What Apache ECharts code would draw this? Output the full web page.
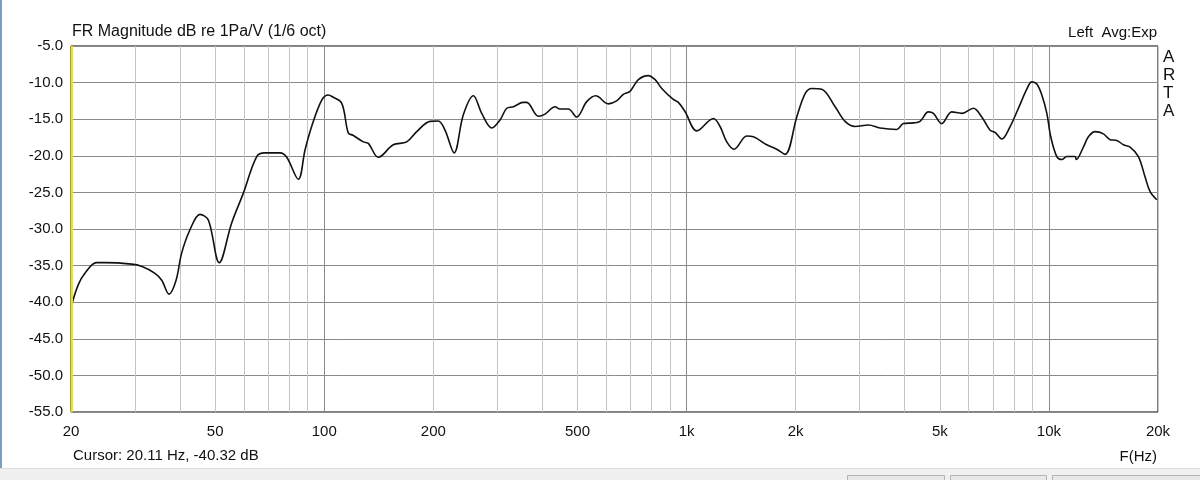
<!DOCTYPE html>
<html>
<head>
<meta charset="utf-8">
<script src="https://cdn.jsdelivr.net/npm/echarts@6/dist/echarts.min.js"></script>
<style>
html,body{margin:0;padding:0;background:#fff;}
#chart{width:1200px;height:480px;}
</style>
</head>
<body>
<div id="chart"></div>
<script>
// ---- data ----
const freqHz = [20.1, 20.95, 21.85, 23.5, 24.8, 29.4, 31.3, 34.1, 35.6, 37.3, 39.0, 40.4, 42.6, 45.4, 47.9, 51.3, 55.5, 59.8, 65.1, 68.6, 75.5, 78.8, 84.8, 88.5, 92.3, 98.4, 102.6, 105, 111.7, 116.5, 120, 128.2, 132.3, 141, 155, 168.9, 180, 195.8, 206.4, 215.4, 228.2, 242, 257.9, 272, 290, 305.6, 318.9, 332.6, 354, 362, 389.9, 406.8, 433.5, 447, 471.6, 497.6, 530, 561.4, 608, 641, 669, 698, 736, 784, 818.6, 854, 919, 949, 990, 1067, 1186, 1237, 1291, 1352, 1466, 1529, 1664, 1773, 1869, 2014, 2124, 2216, 2360, 2570, 2738, 2918, 3176, 3420, 3802, 3966, 4226, 4408, 4648, 4798, 5060, 5394, 5748, 6188, 6526, 6881, 7102, 7412, 7814, 8238, 8688, 8968, 9260, 9558, 9868, 10118, 10512, 10852, 11204, 11810, 11900, 12450, 12852, 13412, 14140, 14756, 15398, 16060, 16750, 17660, 18426, 19020, 19848];
const magDb = [-40.3, -37.6, -36.05, -34.6, -34.6, -34.8, -35.1, -36.05, -37.0, -38.9, -37.0, -33.3, -30.1, -28.0, -28.8, -34.6, -29.2, -25.1, -20.1, -19.6, -19.6, -20.2, -23.2, -19.2, -16.0, -12.4, -11.7, -11.9, -12.8, -16.9, -17.2, -18.1, -18.3, -20.2, -18.5, -18.1, -16.7, -15.3, -15.25, -16.5, -19.6, -14.4, -11.8, -14.2, -16.2, -15.1, -13.5, -13.3, -12.7, -12.7, -14.6, -14.3, -13.3, -13.6, -13.6, -14.7, -12.6, -11.8, -12.9, -12.5, -11.6, -11.2, -9.6, -9.05, -9.6, -10.8, -12.3, -12.7, -13.95, -16.6, -14.9, -16.0, -18.1, -19.1, -17.3, -17.4, -18.5, -19.1, -19.8, -14.7, -11.5, -10.8, -10.9, -13.3, -15.3, -16.0, -15.8, -16.2, -16.4, -15.6, -15.5, -15.3, -14.0, -14.2, -15.6, -14.0, -14.2, -13.5, -14.7, -16.5, -16.8, -17.7, -16.0, -13.5, -10.9, -9.9, -10.2, -11.7, -14.2, -17.4, -20.1, -20.5, -20.1, -20.1, -20.5, -18.8, -17.4, -16.7, -17.0, -17.8, -17.9, -18.5, -18.8, -20.1, -22.9, -24.9, -26.0];

const xTickFreqs = [20, 50, 100, 200, 500, 1000, 2000, 5000, 10000, 20000];
const xTickLabels = ['20', '50', '100', '200', '500', '1k', '2k', '5k', '10k', '20k'];
const minorGridFreqs = [20, 30, 40, 50, 60, 70, 80, 90, 100, 200, 300, 400, 500, 600, 700, 800, 900, 1000, 2000, 3000, 4000, 5000, 6000, 7000, 8000, 9000, 10000, 20000];
const decadeGridFreqs = [100, 1000, 10000];
const freqMin = 20, freqMax = 20000;
const dbMin = -55, dbMax = -5, dbStep = 5;
const cursorHz = 20.11;

const titleText = 'FR Magnitude dB re 1Pa/V (1/6 oct)';
const topRightText = 'Left  Avg:Exp';
const brandLetters = ['A', 'R', 'T', 'A'];
const cursorText = 'Cursor: 20.11 Hz, -40.32 dB';
const xUnitText = 'F(Hz)';

// ---- build ----
const lg = v => Math.log10(v);
const seriesData = freqHz.map((f, i) => [lg(f), magDb[i]]);
const cursorData = [[lg(cursorHz), dbMin], [lg(cursorHz), dbMax]];
const FONT = '"Liberation Sans", Arial, sans-serif';

function labelFor(v) {
  for (let i = 0; i < xTickFreqs.length; i++) {
    if (Math.abs(lg(xTickFreqs[i]) - v) < 1e-6) return xTickLabels[i];
  }
  return '';
}

const chart = echarts.init(document.getElementById('chart'), null, {renderer: 'canvas'});

const graphics = [
  {type: 'rect', shape: {x: 0, y: 0, width: 2, height: 480}, style: {fill: '#7c9cc4'}, silent: true},
  {type: 'rect', shape: {x: 0, y: 468, width: 1200, height: 12}, style: {fill: '#f0f0f0'}, silent: true},
  {type: 'line', shape: {x1: 0, y1: 468.5, x2: 1200, y2: 468.5}, style: {stroke: '#dcdcdc', lineWidth: 1}, silent: true},
  {type: 'rect', shape: {x: 847.5, y: 475.5, width: 97, height: 10}, style: {fill: '#e8e8e8', stroke: '#b4b4b4', lineWidth: 1}, silent: true},
  {type: 'rect', shape: {x: 950.5, y: 475.5, width: 96, height: 10}, style: {fill: '#e8e8e8', stroke: '#b4b4b4', lineWidth: 1}, silent: true},
  {type: 'rect', shape: {x: 1052.5, y: 475.5, width: 160, height: 10}, style: {fill: '#e8e8e8', stroke: '#b4b4b4', lineWidth: 1}, silent: true},
  {type: 'text', left: 72, top: 24, style: {text: titleText, font: '16px ' + FONT, fill: '#111'}},
  {type: 'text', right: 43, top: 25, style: {text: topRightText, font: '15px ' + FONT, fill: '#111'}},
  {type: 'text', left: 73, top: 448, style: {text: cursorText, font: '15px ' + FONT, fill: '#111'}},
  {type: 'text', right: 43, top: 449, style: {text: xUnitText, font: '15px ' + FONT, fill: '#111'}}
];
brandLetters.forEach((ch, i) => {
  graphics.push({type: 'text', left: 1163, top: 49 + i * 17.8, style: {text: ch, font: '17px ' + FONT, fill: '#111'}});
});

const option = {
  animation: false,
  backgroundColor: '#ffffff',
  grid: {left: 71, right: 42, top: 46, bottom: 68, show: true, borderColor: '#000', borderWidth: 1, backgroundColor: 'transparent'},
  xAxis: [
    {
      type: 'value', min: lg(freqMin), max: lg(freqMax),
      axisLine: {show: false},
      axisTick: {show: false, customValues: minorGridFreqs.map(lg)},
      splitLine: {show: true, lineStyle: {color: '#c4c4c4', width: 1}},
      axisLabel: {show: true, customValues: xTickFreqs.map(lg), formatter: labelFor, margin: 12, fontSize: 15, fontFamily: FONT, color: '#111', showMinLabel: true, showMaxLabel: true}
    },
    {
      type: 'value', min: lg(freqMin), max: lg(freqMax), position: 'top',
      axisLine: {show: false},
      axisTick: {show: false, customValues: decadeGridFreqs.map(lg)},
      axisLabel: {show: false},
      splitLine: {show: true, lineStyle: {color: '#8a8a8a', width: 1}}
    }
  ],
  yAxis: {
    type: 'value', min: dbMin, max: dbMax, interval: dbStep,
    axisLine: {show: false}, axisTick: {show: false},
    splitLine: {show: true, lineStyle: {color: '#8a8a8a', width: 1}},
    axisLabel: {formatter: v => v.toFixed(1), margin: 8, fontSize: 15, fontFamily: FONT, color: '#111'}
  },
  series: [
    {
      type: 'line', xAxisIndex: 0, data: cursorData, showSymbol: false, clip: false,
      lineStyle: {color: '#f2e600', width: 2.2}, z: 6, silent: true
    },
    {
      type: 'line', xAxisIndex: 0, data: seriesData, showSymbol: false, smooth: 0.35,
      lineStyle: {color: '#111', width: 1.6}, z: 5
    }
  ],
  graphic: graphics
};
chart.setOption(option);
</script>
</body>
</html>
